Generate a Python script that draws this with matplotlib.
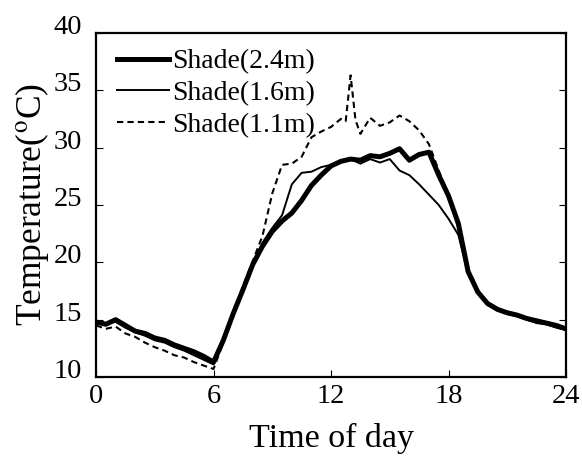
import matplotlib
matplotlib.use("Agg")
import matplotlib.pyplot as plt
import matplotlib.transforms as mtransforms

plt.rcParams['font.family'] = ['Liberation Serif', 'DejaVu Serif']
plt.rcParams['mathtext.fontset'] = 'stix'

hours = [0.0, 0.5, 1.0, 1.5, 2.0, 2.5, 3.0, 3.5, 4.0, 4.5, 5.0, 5.5, 6.0, 6.5,
         7.0, 7.5, 8.0, 8.5, 9.0, 9.5, 10.0, 10.5, 11.0, 11.5, 12.0, 12.5,
         13.0, 13.5, 14.0, 14.5, 15.0, 15.5, 16.0, 16.5, 17.0, 17.5, 18.0,
         18.5, 19.0, 19.5, 20.0, 20.5, 21.0, 21.5, 22.0, 22.5, 23.0, 23.5, 24.0]

shade_24 = [14.8, 14.6, 15.0, 14.5, 14.0, 13.8, 13.4, 13.2, 12.8, 12.5, 12.2,
            11.8, 11.3, 13.2, 15.5, 17.6, 19.8, 21.4, 22.7, 23.6, 24.3, 25.4,
            26.7, 27.6, 28.4, 28.8, 29.0, 28.9, 29.3, 29.2, 29.5, 29.9, 28.9,
            29.4, 29.6, 27.6, 25.8, 23.4, 19.2, 17.4, 16.4, 15.9, 15.6, 15.4,
            15.1, 14.9, 14.7, 14.5, 14.2]

shade_16 = [14.9, 14.7, 14.8, 14.3, 13.9, 13.6, 13.2, 13.0, 12.6, 12.3, 11.9,
            11.5, 11.1, 13.0, 15.4, 17.5, 19.9, 21.7, 23.0, 24.1, 26.8, 27.8,
            27.9, 28.3, 28.5, 28.8, 29.0, 28.6, 29.0, 28.7, 29.0, 28.0, 27.6,
            26.8, 25.9, 25.0, 23.8, 22.4, 19.0, 17.3, 16.3, 15.8, 15.5, 15.3,
            15.0, 14.7, 14.6, 14.3, 14.1]

hours_11 = [0.0, 0.5, 1.0, 1.5, 2.0, 2.5, 3.0, 3.5, 4.0, 4.5, 5.0, 5.5, 6.0, 6.5,
            7.0, 7.5, 8.0, 8.5, 9.0, 9.5, 10.0, 10.5, 11.0, 11.5, 12.0, 12.5,
            12.75, 13.0, 13.25, 13.5, 14.0, 14.5, 15.0, 15.5, 16.0, 16.5, 17.0,
            17.5, 18.0, 18.5, 19.0, 19.5, 20.0, 20.5, 21.0, 21.5, 22.0, 22.5,
            23.0, 23.5, 24.0]

shade_11 = [14.5, 14.2, 14.4, 13.8, 13.5, 13.0, 12.6, 12.3, 11.9, 11.7, 11.3,
            11.0, 10.7, 13.0, 15.6, 17.9, 20.1, 22.3, 26.0, 28.5, 28.6, 29.2,
            30.9, 31.4, 31.8, 32.5, 32.3, 36.3, 32.4, 31.2, 32.6, 31.9, 32.2,
            32.8, 32.3, 31.5, 30.3, 28.0, 25.9, 23.0, 19.0, 17.3, 16.5, 16.0,
            15.6, 15.4, 15.0, 14.8, 14.6, 14.4, 14.1]

labels = ['Shade(2.4m)', 'Shade(1.6m)', 'Shade(1.1m)']
x_ticks = [0, 6, 12, 18, 24]
y_ticks = [10, 15, 20, 25, 30, 35, 40]

fig = plt.figure(figsize=(5.82, 4.57), dpi=100)
ax = fig.add_axes([0.165, 0.175, 0.8075, 0.753])

ax.plot(hours, shade_24, color='black', lw=3.6, label=labels[0])
ax.plot(hours, shade_16, color='black', lw=1.4, label=labels[1])
ax.plot(hours_11, shade_11, color='black', lw=1.5, ls=(0, (3, 2)), label=labels[2])

ax.set_xlim(0, 24)
ax.set_ylim(10, 40)
ax.set_xticks(x_ticks)
ax.set_yticks(y_ticks)
ax.tick_params(direction='in', length=5, width=0.8, labelsize=20.5,
               right=True, top=False)
ax.tick_params(axis='x', pad=5)
ax.tick_params(axis='y', pad=10)
for s in ax.spines.values():
    s.set_linewidth(1.6)

shift = mtransforms.ScaledTranslation(0, 6 / 72, fig.dpi_scale_trans)
for lab in ax.get_yticklabels():
    lab.set_transform(lab.get_transform() + shift)

ax.set_xlabel('Time of day', fontsize=24.5, labelpad=10)
ax.set_ylabel('Temperature($^{\\rm o}$C)', fontsize=25.5, labelpad=2)

leg = ax.legend(loc='upper left', frameon=False, fontsize=20,
                handlelength=1.85, handletextpad=0.1, labelspacing=0.22,
                borderaxespad=0.0, bbox_to_anchor=(0.022, 0.985))

fig.savefig('out.png', dpi=100)
